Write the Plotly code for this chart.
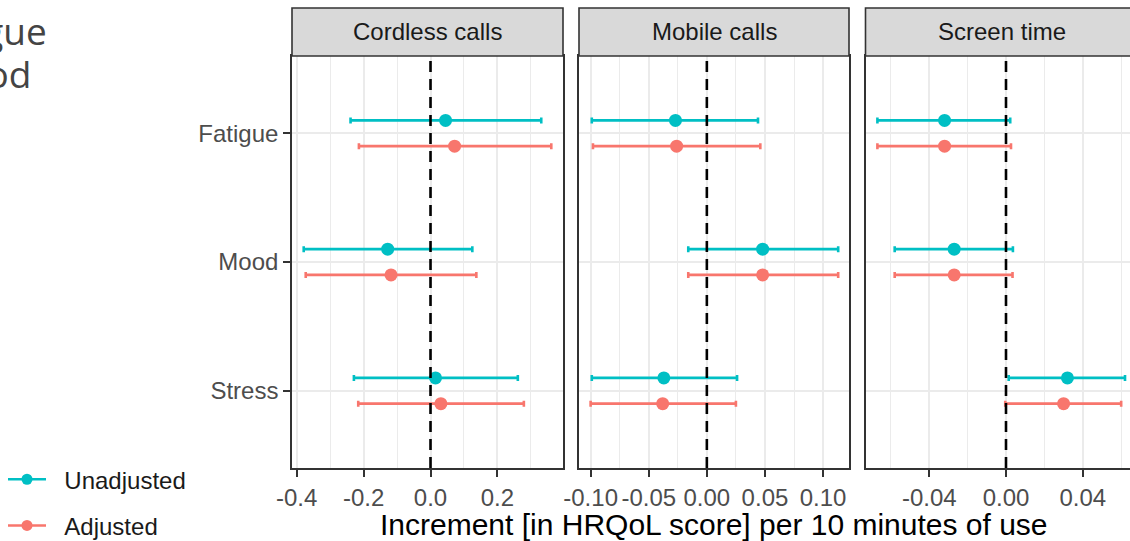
import plotly.graph_objects as go

# Outcomes (y categories, top to bottom) and exposure panels
outcomes = ["Fatigue", "Mood", "Stress"]
exposures = ["Cordless calls", "Mobile calls", "Screen time"]

# Estimates and 95% CIs per 10 minutes of use (Fatigue, Mood, Stress)
cordless_unadj_est = [0.045, -0.128, 0.015]
cordless_unadj_lo = [-0.239, -0.379, -0.229]
cordless_unadj_hi = [0.331, 0.125, 0.261]
cordless_adj_est = [0.072, -0.118, 0.031]
cordless_adj_lo = [-0.214, -0.373, -0.216]
cordless_adj_hi = [0.361, 0.137, 0.279]

mobile_unadj_est = [-0.027, 0.048, -0.037]
mobile_unadj_lo = [-0.099, -0.016, -0.099]
mobile_unadj_hi = [0.044, 0.113, 0.026]
mobile_adj_est = [-0.026, 0.048, -0.038]
mobile_adj_lo = [-0.098, -0.016, -0.100]
mobile_adj_hi = [0.046, 0.113, 0.025]

screen_unadj_est = [-0.032, -0.027, 0.032]
screen_unadj_lo = [-0.067, -0.058, 0.0014]
screen_unadj_hi = [0.0022, 0.0036, 0.062]
screen_adj_est = [-0.032, -0.027, 0.030]
screen_adj_lo = [-0.067, -0.058, -0.0004]
screen_adj_hi = [0.0026, 0.0034, 0.060]

# Axis breaks per panel
cordless_ticks = [-0.4, -0.2, 0.0, 0.2]
cordless_labels = ["-0.4", "-0.2", "0.0", "0.2"]
cordless_minor = [-0.3, -0.1, 0.1, 0.3]
mobile_ticks = [-0.10, -0.05, 0.0, 0.05, 0.10]
mobile_labels = ["-0.10", "-0.05", "0.00", "0.05", "0.10"]
mobile_minor = [-0.075, -0.025, 0.025, 0.075]
screen_ticks = [-0.04, 0.0, 0.04]
screen_labels = ["-0.04", "0.00", "0.04"]
screen_minor = [-0.06, -0.02, 0.02, 0.06]

series_names = ["Unadjusted", "Adjusted"]

TEAL = "#00BFC4"
SALMON = "#F8766D"
FONT = "Liberation Sans, Arial, sans-serif"
W, H = 1130, 541

panels = [
    (cordless_unadj_est, cordless_unadj_lo, cordless_unadj_hi,
     cordless_adj_est, cordless_adj_lo, cordless_adj_hi),
    (mobile_unadj_est, mobile_unadj_lo, mobile_unadj_hi,
     mobile_adj_est, mobile_adj_lo, mobile_adj_hi),
    (screen_unadj_est, screen_unadj_lo, screen_unadj_hi,
     screen_adj_est, screen_adj_lo, screen_adj_hi),
]

# y positions: Fatigue at top
ypos = {name: len(outcomes) - i for i, name in enumerate(outcomes)}
dodge = 0.1

fig = go.Figure()

for p, (ue, ul, uh, ae, al, ah) in enumerate(panels):
    xa = "x" if p == 0 else f"x{p+1}"
    ya = "y" if p == 0 else f"y{p+1}"
    for est, lo, hi, colr, off in [(ae, al, ah, SALMON, -dodge), (ue, ul, uh, TEAL, dodge)]:
        fig.add_trace(go.Scatter(
            x=est,
            y=[ypos[o] + off for o in outcomes],
            mode="markers",
            marker=dict(color=colr, size=13),
            error_x=dict(type="data", symmetric=False,
                         array=[h - e for h, e in zip(hi, est)],
                         arrayminus=[e - l for e, l in zip(est, lo)],
                         color=colr, thickness=2.6, width=3),
            xaxis=xa, yaxis=ya, showlegend=False, hoverinfo="skip",
        ))

# legend entries (leading no-break spaces widen the key-to-label gap)
for name, colr in zip(series_names, [TEAL, SALMON]):
    fig.add_trace(go.Scatter(
        x=[None], y=[None], mode="lines+markers", name="\u00a0\u00a0" + name,
        line=dict(color=colr, width=2.6), marker=dict(color=colr, size=11),
        legendgroup=name, showlegend=True,
    ))

# panel geometry in pixels
px_dom = [(292, 563), (579, 849), (865.5, 1130)]
x_ranges = [[-0.414, 0.396], [-0.110, 0.1223], [-0.0732, 0.0646]]
tick_sets = [(cordless_ticks, cordless_labels, cordless_minor),
             (mobile_ticks, mobile_labels, mobile_minor),
             (screen_ticks, screen_labels, screen_minor)]
y_top, y_bot = 56, 468
ydom = [1 - y_bot / H, 1 - y_top / H]

layout = dict(
    width=W, height=H,
    margin=dict(l=0, r=0, t=0, b=0, autoexpand=False),
    paper_bgcolor="white", plot_bgcolor="white",
    font=dict(family=FONT, size=24, color="#4D4D4D"),
    legend=dict(x=3 / W, y=0.155, xanchor="left", yanchor="top",
                font=dict(family=FONT, size=24, color="#1A1A1A"),
                tracegroupgap=12, itemwidth=38, bgcolor="rgba(0,0,0,0)"),
)

grid_col = "#EBEBEB"
for p in range(3):
    key = "xaxis" if p == 0 else f"xaxis{p+1}"
    ykey = "yaxis" if p == 0 else f"yaxis{p+1}"
    tv, tt, mv = tick_sets[p]
    layout[key] = dict(
        domain=[px_dom[p][0] / W, px_dom[p][1] / W],
        range=x_ranges[p], anchor="y" if p == 0 else f"y{p+1}",
        tickvals=tv, ticktext=tt, ticks="outside", ticklen=7, tickwidth=1.6,
        tickcolor="#333333", showgrid=True, gridcolor=grid_col, gridwidth=1.6,
        minor=dict(tickvals=mv, showgrid=True, gridcolor=grid_col, gridwidth=0.9, ticks=""),
        zeroline=False, showline=True, linecolor="#333333", linewidth=1.6,
        mirror=True, tickfont=dict(size=24, color="#4D4D4D"), fixedrange=True,
        automargin=False,
    )
    layout[ykey] = dict(
        domain=ydom, range=[0.4, 3.6], anchor="x" if p == 0 else f"x{p+1}",
        tickvals=[ypos[o] for o in outcomes], ticktext=outcomes,
        showticklabels=(p == 0), ticks="outside" if p == 0 else "",
        ticklen=7, tickwidth=1.6, tickcolor="#333333",
        showgrid=True, gridcolor=grid_col, gridwidth=1.6, zeroline=False,
        showline=True, linecolor="#333333", linewidth=1.6, mirror=(p < 2),
        tickfont=dict(size=24, color="#4D4D4D"), fixedrange=True,
        automargin=False,
    )

fig.update_layout(**layout)

shapes = []
annotations = []
strip_top = 8
for p in range(3):
    xa = "x" if p == 0 else f"x{p+1}"
    # dashed reference at zero
    shapes.append(dict(type="line", xref=xa, yref=f"{'y' if p == 0 else 'y' + str(p+1)} domain",
                       x0=0, x1=0, y0=0, y1=1,
                       line=dict(color="black", width=2.6, dash="11px,7px")))
    # strip
    x1 = 1.0 if p < 2 else 1.05
    shapes.append(dict(type="rect", xref=f"{xa} domain", yref="paper",
                       x0=0, x1=x1, y0=1 - y_top / H, y1=1 - strip_top / H,
                       fillcolor="#D9D9D9", line=dict(color="#333333", width=1.6),
                       layer="above"))

strip_centres = [(292 + 563) / 2, (579 + 849) / 2, (866 + 1137) / 2]
for p, label in enumerate(exposures):
    annotations.append(dict(text=label, xref="paper", yref="paper",
                            x=strip_centres[p] / W, y=1 - 32 / H,
                            xanchor="center", yanchor="middle", showarrow=False,
                            font=dict(family=FONT, size=24, color="#1A1A1A")))

annotations.append(dict(text="Increment [in HRQoL score] per 10 minutes of use",
                        xref="paper", yref="paper", x=714 / W, y=1 - 524 / H,
                        xanchor="center", yanchor="middle", showarrow=False,
                        font=dict(family=FONT, size=30, color="black")))

# outcome names at the top left
for txt, xr, yc in [("Fatigue", 49, 30), ("Mood", 33, 74)]:
    annotations.append(dict(text=txt, xref="paper", yref="paper",
                            x=xr / W, y=1 - yc / H, xanchor="right", yanchor="middle",
                            showarrow=False,
                            font=dict(family="Open Sans", size=37, color="#444444")))

fig.update_layout(shapes=shapes, annotations=annotations)

fig.write_html("out.html")
